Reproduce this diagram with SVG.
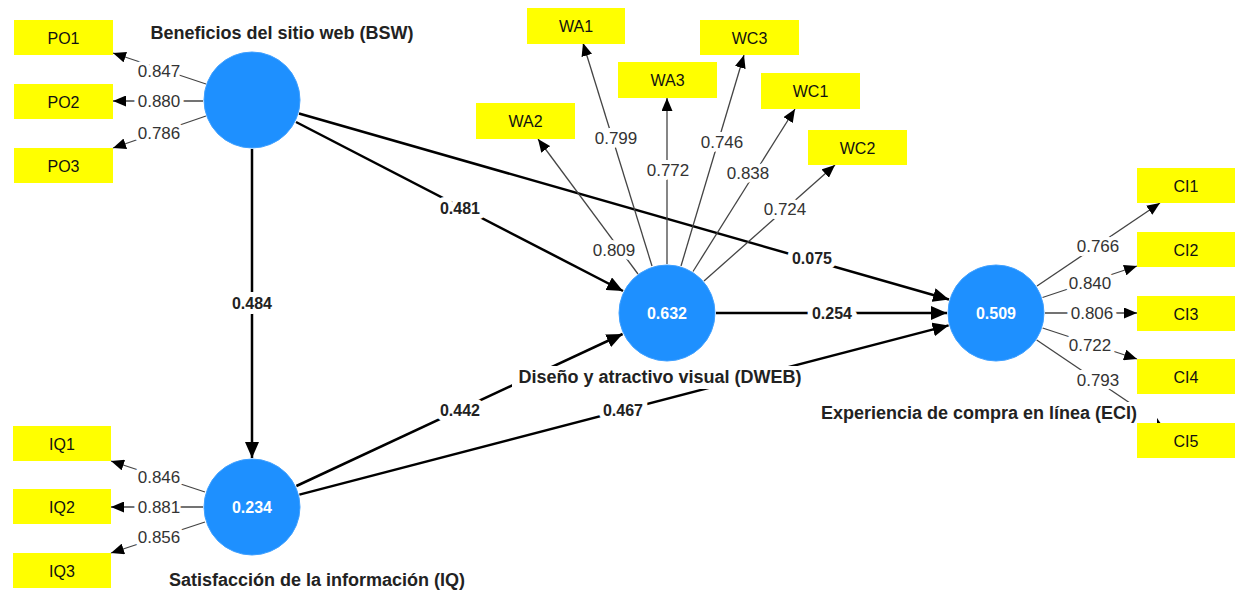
<svg xmlns="http://www.w3.org/2000/svg" width="1235" height="592" viewBox="0 0 1235 592">
<style>
.bg{fill:#ffffff}
.lv{fill:#1E90FF;stroke:#3fa0ff;stroke-width:1}
.ind{fill:#FFFF00}
.it{font-family:"Liberation Sans",Arial,sans-serif;font-size:16px;fill:#111;text-anchor:middle;dominant-baseline:central}
.lvv{font-family:"Liberation Sans",Arial,sans-serif;font-size:16px;font-weight:bold;fill:#ffffff;text-anchor:middle;dominant-baseline:central}
.lvl{font-family:"Liberation Sans",Arial,sans-serif;font-size:18px;font-weight:bold;fill:#222;text-anchor:middle;dominant-baseline:central}
.st{stroke:#000;stroke-width:2.5;fill:none}
.ol{stroke:#444;stroke-width:1.3;fill:none}
.pc{font-family:"Liberation Sans",Arial,sans-serif;font-size:16px;font-weight:bold;fill:#222;text-anchor:middle;dominant-baseline:central;stroke:#fff;stroke-width:10;paint-order:stroke;stroke-linejoin:round}
.ld{font-family:"Liberation Sans",Arial,sans-serif;font-size:17px;fill:#333;text-anchor:middle;dominant-baseline:central;stroke:#fff;stroke-width:8;paint-order:stroke;stroke-linejoin:round}
</style>
<defs>
<marker id="ah" markerUnits="userSpaceOnUse" markerWidth="16" markerHeight="14" refX="16" refY="7" orient="auto"><path d="M0,0 L16,7 L0,14 z" fill="#000"/></marker>
<marker id="as" markerUnits="userSpaceOnUse" markerWidth="13" markerHeight="11" refX="13" refY="5.5" orient="auto"><path d="M0,0 L13,5.5 L0,11 z" fill="#000"/></marker>
</defs>
<rect class="bg" x="0" y="0" width="1235" height="592"/>

<g id="connectors">
<line class="st" x1="252" y1="149" x2="252" y2="458" marker-end="url(#ah)"/>
<line class="st" x1="296" y1="122" x2="623" y2="291" marker-end="url(#ah)"/>
<line class="st" x1="299" y1="113.5" x2="949" y2="299.5" marker-end="url(#ah)"/>
<line class="st" x1="716" y1="313" x2="947" y2="313" marker-end="url(#ah)"/>
<line class="st" x1="296.4" y1="486" x2="622.6" y2="334" marker-end="url(#ah)"/>
<line class="st" x1="299.4" y1="494.6" x2="948.6" y2="325.4" marker-end="url(#ah)"/>

<line class="ol" x1="206" y1="84" x2="113" y2="53" marker-end="url(#as)"/>
<line class="ol" x1="203" y1="101" x2="113" y2="101" marker-end="url(#as)"/>
<line class="ol" x1="206" y1="116" x2="113" y2="148" marker-end="url(#as)"/>

<line class="ol" x1="205" y1="492" x2="111" y2="461" marker-end="url(#as)"/>
<line class="ol" x1="203" y1="507" x2="111" y2="507" marker-end="url(#as)"/>
<line class="ol" x1="205" y1="522" x2="111" y2="553" marker-end="url(#as)"/>

<line class="ol" x1="652" y1="266" x2="583" y2="43" marker-end="url(#as)"/>
<line class="ol" x1="667" y1="264" x2="667" y2="98" marker-end="url(#as)"/>
<line class="ol" x1="681" y1="266" x2="744" y2="55" marker-end="url(#as)"/>
<line class="ol" x1="693" y1="271.5" x2="795" y2="109" marker-end="url(#as)"/>
<line class="ol" x1="638" y1="274" x2="538" y2="139" marker-end="url(#as)"/>
<line class="ol" x1="704" y1="281" x2="835" y2="165" marker-end="url(#as)"/>

<line class="ol" x1="1037" y1="286" x2="1160" y2="203" marker-end="url(#as)"/>
<line class="ol" x1="1042.5" y1="297.5" x2="1137" y2="266" marker-end="url(#as)"/>
<line class="ol" x1="1045" y1="313" x2="1137" y2="313" marker-end="url(#as)"/>
<line class="ol" x1="1042.6" y1="328" x2="1137" y2="359" marker-end="url(#as)"/>
<line class="ol" x1="1036.7" y1="340" x2="1161" y2="424" marker-end="url(#as)"/>

<text class="pc" x="252" y="303">0.484</text>
<text class="pc" x="460" y="208">0.481</text>
<text class="pc" x="812" y="258">0.075</text>
<text class="pc" x="832" y="313">0.254</text>
<text class="pc" x="460" y="410">0.442</text>
<text class="pc" x="623" y="410">0.467</text>

<text class="ld" x="159" y="71">0.847</text>
<text class="ld" x="159" y="101">0.880</text>
<text class="ld" x="159" y="133">0.786</text>
<text class="ld" x="159" y="477">0.846</text>
<text class="ld" x="159" y="507">0.881</text>
<text class="ld" x="159" y="537">0.856</text>
<text class="ld" x="616" y="138">0.799</text>
<text class="ld" x="668" y="170">0.772</text>
<text class="ld" x="722" y="142">0.746</text>
<text class="ld" x="748" y="173">0.838</text>
<text class="ld" x="785" y="209">0.724</text>
<text class="ld" x="614" y="250">0.809</text>
<text class="ld" x="1098" y="246">0.766</text>
<text class="ld" x="1090" y="283">0.840</text>
<text class="ld" x="1092" y="313">0.806</text>
<text class="ld" x="1090" y="345">0.722</text>
<text class="ld" x="1098" y="380">0.793</text>
</g>

<g id="BSW">
<circle class="lv" cx="252" cy="100" r="48"/>
<rect class="bg" x="146" y="22" width="272" height="23"/>
<text class="lvl" x="282" y="33">Beneficios del sitio web (BSW)</text>
</g>
<g id="IQ">
<circle class="lv" cx="252" cy="507" r="48"/>
<text class="lvv" x="252" y="507">0.234</text>
<rect class="bg" x="164" y="569" width="306" height="23"/>
<text class="lvl" x="317" y="580">Satisfacción de la información (IQ)</text>
</g>
<g id="DWEB">
<circle class="lv" cx="667" cy="313" r="48"/>
<text class="lvv" x="667" y="313">0.632</text>
<rect class="bg" x="512" y="366" width="296" height="23"/>
<text class="lvl" x="660" y="377">Diseño y atractivo visual (DWEB)</text>
</g>
<g id="ECI">
<circle class="lv" cx="996" cy="313" r="48"/>
<text class="lvv" x="996" y="313">0.509</text>
<rect class="bg" x="815" y="402" width="342" height="24"/>
<text class="lvl" x="979" y="413">Experiencia de compra en línea (ECI)</text>
</g>

<g id="PO1"><rect class="ind" x="14" y="20" width="99" height="35"/><text class="it" x="63.5" y="38">PO1</text></g>
<g id="PO2"><rect class="ind" x="14" y="84" width="99" height="35"/><text class="it" x="63.5" y="102">PO2</text></g>
<g id="PO3"><rect class="ind" x="14" y="148" width="99" height="35"/><text class="it" x="63.5" y="166">PO3</text></g>
<g id="IQ1"><rect class="ind" x="13" y="426" width="98" height="35"/><text class="it" x="62" y="444">IQ1</text></g>
<g id="IQ2"><rect class="ind" x="13" y="489" width="98" height="35"/><text class="it" x="62" y="507">IQ2</text></g>
<g id="IQ3"><rect class="ind" x="13" y="553" width="98" height="35"/><text class="it" x="62" y="571">IQ3</text></g>
<g id="WA1"><rect class="ind" x="527" y="8" width="98" height="36"/><text class="it" x="576" y="26">WA1</text></g>
<g id="WA3"><rect class="ind" x="618" y="62" width="99" height="36"/><text class="it" x="667.5" y="80">WA3</text></g>
<g id="WC3"><rect class="ind" x="700" y="20" width="99" height="35"/><text class="it" x="749.5" y="38">WC3</text></g>
<g id="WC1"><rect class="ind" x="761" y="73" width="99" height="36"/><text class="it" x="810.5" y="91">WC1</text></g>
<g id="WA2"><rect class="ind" x="476" y="103" width="99" height="36"/><text class="it" x="525.5" y="121">WA2</text></g>
<g id="WC2"><rect class="ind" x="808" y="130" width="99" height="35"/><text class="it" x="857.5" y="148">WC2</text></g>
<g id="CI1"><rect class="ind" x="1137" y="168" width="98" height="35"/><text class="it" x="1186" y="186">CI1</text></g>
<g id="CI2"><rect class="ind" x="1137" y="232" width="98" height="35"/><text class="it" x="1186" y="250">CI2</text></g>
<g id="CI3"><rect class="ind" x="1137" y="296" width="98" height="35"/><text class="it" x="1186" y="314">CI3</text></g>
<g id="CI4"><rect class="ind" x="1137" y="359" width="98" height="35"/><text class="it" x="1186" y="377">CI4</text></g>
<g id="CI5"><rect class="ind" x="1137" y="423" width="98" height="35"/><text class="it" x="1186" y="441">CI5</text></g>
</svg>
